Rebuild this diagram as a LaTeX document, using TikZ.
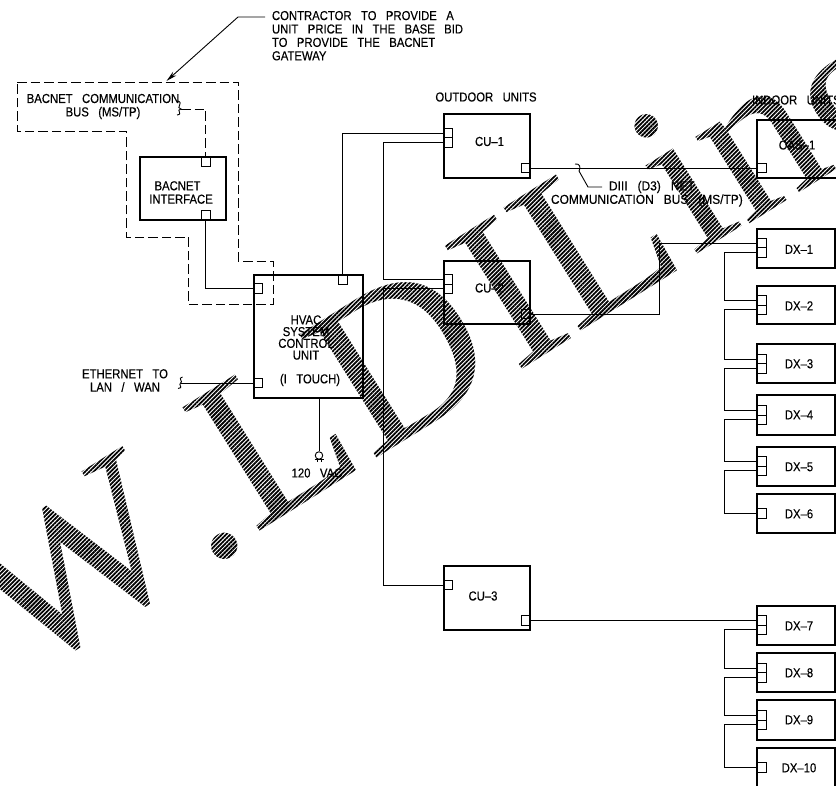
\documentclass[tikz,border=0pt]{standalone}
\usepackage{fontspec}
\setmainfont[FakeStretch=0.87,WordSpace=3,FakeBold=0.3]{Liberation Sans}
\newfontfamily\widefont[FakeStretch=0.92,WordSpace=3,FakeBold=0.3]{Liberation Sans}
\newfontfamily\wmfont{Liberation Serif}
\usetikzlibrary{arrows.meta,patterns.meta,fadings}
\tikzset{
  unit/.style={draw,line width=2pt,rectangle,inner sep=0pt,outer sep=0pt},
  port/.style={draw,line width=0.8pt,rectangle,inner sep=0pt,outer sep=0pt,minimum width=9pt,minimum height=9.4pt},
  lbl/.style={inner sep=0pt,outer sep=0pt,align=center,font=\fontsize{13}{13.4}\selectfont},
  wire/.style={line width=0.9pt,line join=miter},
  busdash/.style={line width=0.9pt,dash pattern=on 9.5pt off 4pt},
}
% box: name, left, top, right, bottom
\newcommand{\unitbox}[5]{\node[unit,anchor=north west,minimum width=#4pt-#2pt,minimum height=#5pt-#3pt] (#1) at (#2,#3) {};}
% DX unit with two ports
\newcommand{\dxunit}[5]{\unitbox{#1}{757}{#2}{835}{#3}
  \node[lbl] (#1t) at (799,#2+19.8) {#4};
  \node[port,anchor=west] (#1a) at (757,#5) {};
  \node[port,anchor=west] (#1b) at (757,#5+9.4) {};}
\newcommand{\dxlast}[5]{\unitbox{#1}{757}{#2}{835}{#3}
  \node[lbl] (#1t) at (799,#2+19.8) {#4};
  \node[port,anchor=west] (#1a) at (757,#5) {};}
% one watermark letter: x, y in image pixels, letter
\newcommand{\wmletter}[3]{%
  \pgfmathsetlengthmacro{\wmy}{786pt-#2pt}%
  \pgftext[at=\pgfpoint{#1pt}{\wmy},left,base,rotate=32]{\color{pgftransparent!0}\wmfont\fontsize{222}{222}\selectfont #3}}
\pgfdeclarefading{wmfade}{%
  \pgfpicture
  \pgfpathrectangle{\pgfpoint{0pt}{0pt}}{\pgfpoint{836pt}{786pt}}\pgfusepath{use as bounding box}%
  \wmletter{22}{680}{W}\wmletter{206}{569}{.}\wmletter{254.5}{534.5}{L}%
  \wmletter{371.5}{461.5}{D}\wmletter{515}{373.5}{I}\wmletter{575.5}{334.5}{L}%
  \wmletter{693.5}{256.5}{i}\wmletter{745.5}{226.5}{n}\wmletter{842}{180}{g}%
  \endpgfpicture}
\begin{document}
\begin{tikzpicture}[x=1pt,y=-1pt]
\useasboundingbox (0,0) rectangle (836,786);
\begin{scope}
\clip (0,0) rectangle (836,786);
% note and leader
\node[lbl,align=left,anchor=north west] (note) at (272,11) {CONTRACTOR TO PROVIDE A\\UNIT PRICE IN THE BASE BID\\TO PROVIDE THE BACNET\\GATEWAY};
\coordinate (ldA) at (265,17);
\coordinate (ldB) at (238,17);
\coordinate (ldC) at (166.5,81);
\draw[wire,-{Stealth[length=11pt,width=5pt]}] (ldA) -- (ldB) -- (ldC);
% dashed enclosure
\draw[busdash] (17,82) -- (238,82) -- (238,261) -- (273,261) -- (273,304.5) -- (188,304.5) -- (188,237) -- (126,237) -- (126,131) -- (17,131) -- cycle;
\node[lbl] (bustxt) at (103,106.5) {BACNET COMMUNICATION\\BUS (MS/TP)};
% BACnet interface
\unitbox{bac}{139.5}{157}{226}{220}
\node[lbl] (bactxt) at (181,192.5) {\hspace*{-7pt}BACNET\\INTERFACE};
\node[port,anchor=north] (bacT) at (205.5,157) {};
\node[port,anchor=south] (bacB) at (205.5,220) {};
% HVAC
\unitbox{hvac}{253.5}{275.5}{362.5}{398}
\node[lbl,font=\fontsize{13}{11.7}\selectfont] (hvactxt) at (306,337.5) {HVAC\\SYSTEM\\CONTROL\\UNIT};
\node[lbl] (touch) at (310,380) {(I TOUCH)};
\node[port,anchor=west] (hvL) at (253.5,288.5) {};
\node[port,anchor=west] (hvE) at (253.5,383) {};
\node[port,anchor=north] (hvT) at (342.5,275.5) {};
% outdoor units
\node[lbl] (outd) at (486,97) {OUTDOOR UNITS};
\unitbox{cua}{443.5}{114.5}{530}{178}
\node[lbl] at (489.5,141.5) {CU--1};
\node[port,anchor=west] (cuaA) at (443.5,133) {};
\node[port,anchor=west] (cuaB) at (443.5,142.4) {};
\node[port,anchor=east] (cuaR) at (530,168) {};
\unitbox{cub}{443.5}{261}{530}{324}
\node[lbl] at (489.5,288) {CU--2};
\node[port,anchor=west] (cubA) at (443.5,279.5) {};
\node[port,anchor=west] (cubB) at (443.5,288.9) {};
\node[port,anchor=east] (cubR) at (530,314) {};
\unitbox{cuc}{443.5}{566}{530}{630}
\node[lbl] at (483,596) {CU--3};
\node[port,anchor=west] (cucA) at (443.5,585) {};
\node[port,anchor=east] (cucR) at (530,620.5) {};
% indoor units
\node[lbl,anchor=west] (ind) at (752,100) {INDOOR UNITS};
\unitbox{oas}{757}{120.5}{850}{178}
\node[lbl] at (797,145) {OAS--1};
\node[port,anchor=west] (oasP) at (757,168) {};
\dxunit{dxa}{229.5}{268}{DX--1}{243}
\dxunit{dxb}{286}{324}{DX--2}{300.5}
\dxunit{dxc}{344}{383}{DX--3}{359}
\dxunit{dxd}{395}{435}{DX--4}{410.5}
\dxunit{dxe}{447}{486}{DX--5}{461.5}
\dxlast{dxf}{494}{533}{DX--6}{513.5}
\dxunit{dxg}{606}{645}{DX--7}{620.5}
\dxunit{dxh}{653}{692}{DX--8}{668}
\dxunit{dxi}{700}{740}{DX--9}{715.5}
\dxlast{dxj}{748}{790}{DX--10}{767.5}
% wiring
\coordinate (brk) at (181,109);
\draw[line width=0.9pt] (178,101) .. controls (184,103) and (175,108) .. (brk) .. controls (175,110) and (184,114) .. (177,115);
\draw[busdash] (brk) -| (bacT.north);
\draw[wire] (bacB.south) |- (hvL.west);
\draw[wire] (hvT.north) |- (cuaA.west);
\draw[wire] (cuaB.west) -| (383,279.5) -- (cubA.west);
\draw[wire] (cubB.west) -| (383,585) -- (cucA.west);
\draw[wire] (cuaR.east) -- (oasP.west);
\draw[wire] (cubR.east) -| (659,243) -- (dxaa.west);
\draw[wire] (cucR.east) -- (dxga.west);
\foreach \a/\b in {dxab/dxba,dxbb/dxca,dxcb/dxda,dxdb/dxea,dxeb/dxfa,dxgb/dxha,dxhb/dxia,dxib/dxja}
  \draw[wire] (\a.west) -| (724,0 |- \b.west) -- (\b.west);
% ethernet
\node[lbl] (eth) at (125,380.5) {ETHERNET TO\\LAN / WAN};
\coordinate (ebrk) at (180.5,383);
\draw[line width=0.9pt] (182.5,377) .. controls (177,378) and (184,382) .. (ebrk) .. controls (178,385) and (184,388) .. (178,388.5);
\draw[wire] (ebrk) -- (hvE.west);
% 120 VAC
\node[circle,draw,line width=0.9pt,inner sep=0pt,minimum size=7.5pt] (plug) at (319,455.5) {};
\coordinate (hvS) at (319,398);
\draw[wire] (hvS) -- (plug.north);
\draw[line width=0.9pt] (314.5,459.5) -- (323.5,459.5);
\draw[line width=0.9pt] (317,459.5) -- (317,462) (321,459.5) -- (321,462);
\node[lbl] (vac) at (317,473) {120 VAC};
% communication bus note
\coordinate (hkA) at (575,164);
\coordinate (hkB) at (588,187);
\coordinate (hkC) at (602,187);
\draw[line width=0.9pt] (hkA) .. controls (580,163) and (581,168) .. (579,171) -- (hkB) -- (hkC);
\node[lbl,anchor=west,font=\widefont\fontsize{13}{13.4}\selectfont] (d3a) at (609,187) {DIII (D3) NET};
\node[lbl,anchor=west,font=\widefont\fontsize{13}{13.4}\selectfont] (d3b) at (551,200.5) {COMMUNICATION BUS (MS/TP)};
% watermark
\fill[pattern={Lines[angle=45,distance=3pt,line width=1.8pt]},pattern color=black,path fading=wmfade,fit fading=false,fading transform={xshift=418pt,yshift=-393pt}] (0,0) rectangle (836,786);
\end{scope}
\end{tikzpicture}
\end{document}
